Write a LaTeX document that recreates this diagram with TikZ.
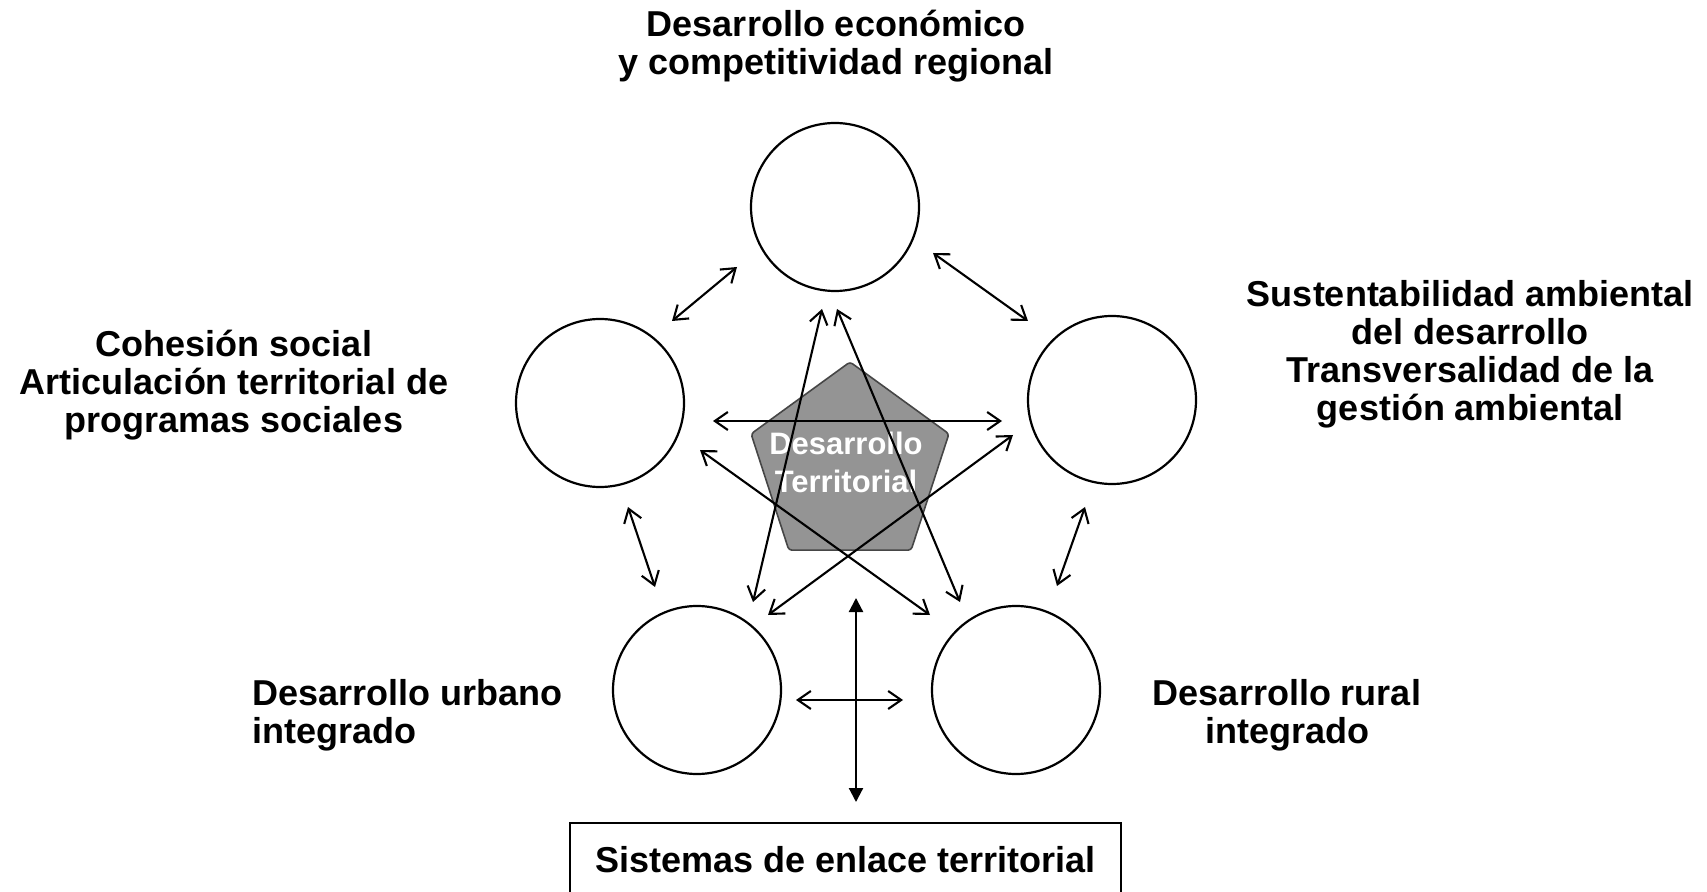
\documentclass[tikz,border=0pt]{standalone}
\usepackage{fontspec}
\setmainfont{Liberation Sans}
\usetikzlibrary{arrows.meta,shapes.geometric}
\definecolor{pentfill}{RGB}{148,148,148}
\definecolor{pentline}{RGB}{70,70,70}
\tikzset{
  ring/.style={draw, circle, line width=1.1pt, minimum size=84pt, inner sep=0pt},
  lbl/.style={font=\bfseries\fontsize{18pt}{19pt}\selectfont, align=center, anchor=base, inner sep=0pt},
  dbl/.style={line width=1.05pt, {Straight Barb[length=6.5pt,width=9pt]}-{Straight Barb[length=6.5pt,width=9pt]}},
  solidarrow/.style={line width=1.1pt, {Triangle[length=7pt,width=7pt]}-{Triangle[length=7pt,width=7pt]}}
}
\begin{document}
\begin{tikzpicture}[x=0.5pt,y=-0.5pt]
\useasboundingbox (0,0) rectangle (1707,892);
% pentagon
\node[regular polygon, regular polygon sides=5, minimum size=104pt, inner sep=0pt,
      draw=pentline, fill=pentfill, line width=0.8pt, rounded corners=1.5pt] (pent) at (850,466) {};
\node[font=\bfseries\fontsize{15.5pt}{19pt}\selectfont, text=white, align=center, anchor=base, inner sep=0pt] (dt) at (846,493) {Desarrollo\\Territorial};
% circles
\node[ring] (top) at (835,207) {};
\node[ring] (left) at (600,403) {};
\node[ring] (right) at (1112,400) {};
\node[ring] (bl) at (697,690) {};
\node[ring] (br) at (1016,690) {};
% labels (anchor = baseline of last line)
\node[lbl] (ltop) at (836,75) {Desarrollo económico\\y competitividad regional};
\node[lbl] (lleft) at (234,433) {Cohesión social\\Articulación territorial de\\programas sociales};
\node[lbl] (lright) at (1470,421) {Sustentabilidad ambiental\\del desarrollo\\Transversalidad de la\\gestión ambiental};
\node[lbl, align=left, anchor=base west] (lbl) at (252,743) {Desarrollo urbano\\integrado};
\node[lbl] (lbr) at (1287,743) {Desarrollo rural\\integrado};
% bottom box
\node[draw, line width=1.1pt, anchor=north, minimum width=275.5pt, inner xsep=0pt, inner ysep=11.5pt,
      text height=13pt, text depth=12pt, font=\bfseries\fontsize{18pt}{19pt}\selectfont] (enlace) at (845.5,822) {Sistemas de enlace territorial};
% arrow end points
\coordinate (a1) at (737,267); \coordinate (b1) at (672,321);
\coordinate (a2) at (933,253); \coordinate (b2) at (1028,321);
\coordinate (a3) at (628,507); \coordinate (b3) at (655,587);
\coordinate (a4) at (1085,507); \coordinate (b4) at (1057,586);
\coordinate (a5) at (796,700); \coordinate (b5) at (903,700);
\coordinate (a6) at (822,309); \coordinate (b6) at (753,602);
\coordinate (a7) at (837,309); \coordinate (b7) at (960,602);
\coordinate (a8) at (713,421); \coordinate (b8) at (1002,421);
\coordinate (a9) at (700,450); \coordinate (b9) at (930,615);
\coordinate (a10) at (1013,435); \coordinate (b10) at (768,615);
\coordinate (a11) at (856,598); \coordinate (b11) at (856,802);
% arrows
\draw[dbl] (a1) -- (b1);
\draw[dbl] (a2) -- (b2);
\draw[dbl] (a3) -- (b3);
\draw[dbl] (a4) -- (b4);
\draw[dbl] (a5) -- (b5);
\draw[dbl] (a6) -- (b6);
\draw[dbl] (a7) -- (b7);
\draw[dbl] (a8) -- (b8);
\draw[dbl] (a9) -- (b9);
\draw[dbl] (a10) -- (b10);
\draw[solidarrow] (a11) -- (b11);
\end{tikzpicture}
\end{document}
